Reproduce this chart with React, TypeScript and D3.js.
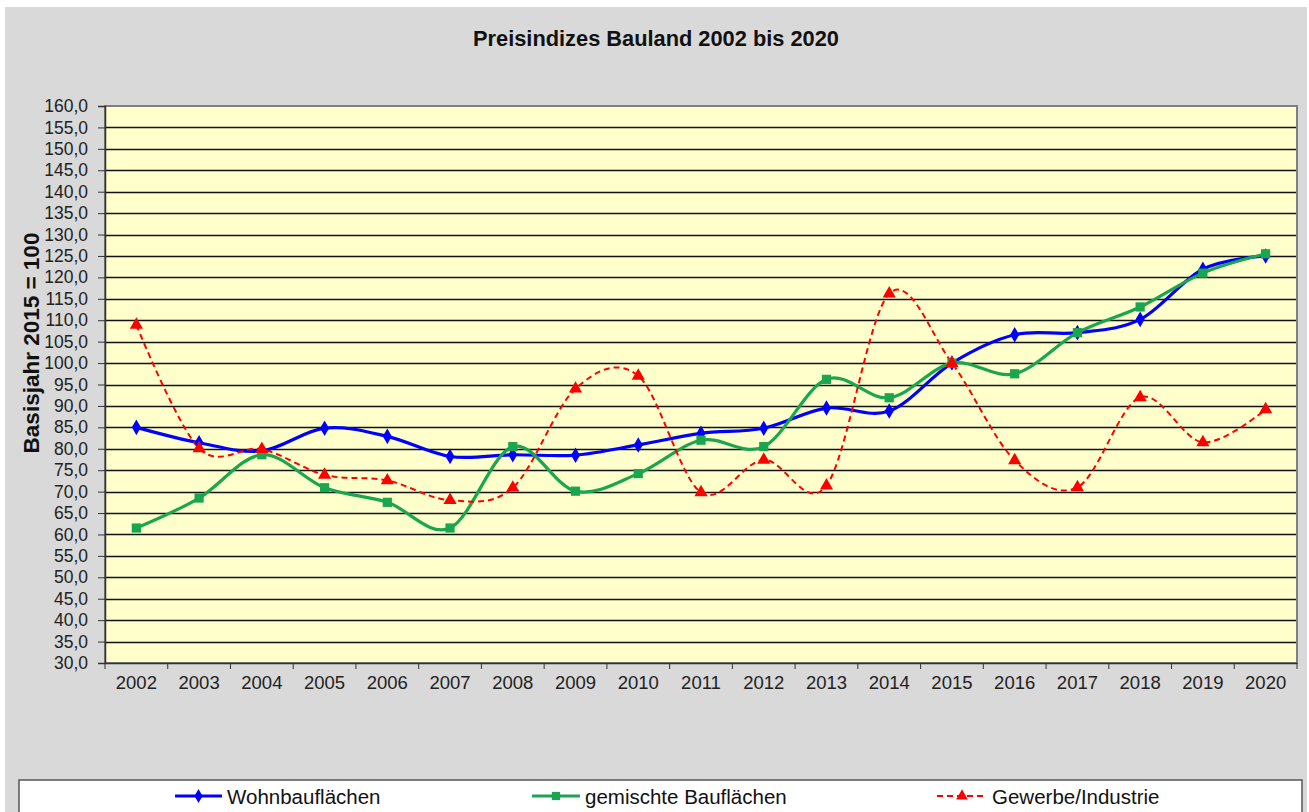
import React, { useEffect, useRef } from "react";
import * as d3 from "d3";

// categories (years)
const years = [
  "2002", "2003", "2004", "2005", "2006", "2007", "2008", "2009", "2010", "2011",
  "2012", "2013", "2014", "2015", "2016", "2017", "2018", "2019", "2020",
];

// series values
const wohnbau = [
  85.0, 81.4, 79.5, 84.8, 82.9, 78.2, 78.6, 78.5, 80.9, 83.6,
  84.8, 89.5, 88.8, 100.0, 106.6, 107.1, 110.2, 121.9, 125.0,
];
const gemischt = [
  61.5, 68.5, 78.6, 70.9, 67.5, 61.5, 80.5, 70.1, 74.2, 82.0,
  80.5, 96.2, 91.9, 100.0, 97.5, 107.1, 113.1, 121.0, 125.5,
];
const gewerbe = [
  108.9, 80.1, 79.9, 73.9, 72.6, 68.0, 70.9, 94.0, 97.0, 69.8,
  77.4, 71.4, 116.2, 100.0, 77.3, 71.0, 92.0, 81.5, 89.2,
];

const yTicks = d3.range(30, 160.1, 5);

const seriesNames = ["Wohnbauflächen", "gemischte Bauflächen", "Gewerbe/Industrie"];

const W = 1309;
const H = 812;

export default function App() {
  const ref = useRef<SVGSVGElement>(null);

  useEffect(() => {
    const svg = d3.select(ref.current);
    svg.selectAll("*").remove();

    const font = "'Liberation Sans', Arial, sans-serif";

    // outer chart background
    svg.append("rect").attr("width", W).attr("height", H).attr("fill", "#ffffff");
    svg
      .append("rect")
      .attr("x", 5)
      .attr("y", 7)
      .attr("width", W - 7)
      .attr("height", H - 7)
      .attr("fill", "#d9d9d9");

    // plot area
    const left = 105;
    const right = 1297;
    const top = 106;
    const bottom = 663;

    const x = d3.scaleBand().domain(years).range([left, right]);
    const y = d3.scaleLinear().domain([30, 160]).range([bottom, top]);
    const cx = (i: number) => (x(years[i]) as number) + x.bandwidth() / 2;

    svg
      .append("rect")
      .attr("x", left)
      .attr("y", top)
      .attr("width", right - left)
      .attr("height", bottom - top)
      .attr("fill", "#ffffcc");

    // gridlines
    svg
      .append("g")
      .selectAll("line")
      .data(yTicks.slice(1, -1))
      .enter()
      .append("line")
      .attr("x1", left)
      .attr("x2", right)
      .attr("y1", (d) => Math.round(y(d)) + 0.5)
      .attr("y2", (d) => Math.round(y(d)) + 0.5)
      .attr("stroke", "#111")
      .attr("stroke-width", 1.4);

    // plot border
    svg
      .append("rect")
      .attr("x", left)
      .attr("y", top)
      .attr("width", right - left)
      .attr("height", bottom - top)
      .attr("fill", "none")
      .attr("stroke", "#808080")
      .attr("stroke-width", 2);

    // y axis
    const yAxis = svg
      .append("g")
      .attr("transform", `translate(${left},0)`)
      .call(
        d3
          .axisLeft(y)
          .tickValues(yTicks)
          .tickSize(7)
          .tickPadding(10)
          .tickFormat((d) => d3.format(".1f")(d as number).replace(".", ","))
      );
    yAxis.select(".domain").attr("stroke", "#333").attr("stroke-width", 1.5);
    yAxis.selectAll(".tick line").attr("stroke", "#333");
    yAxis
      .selectAll(".tick text")
      .attr("fill", "#222")
      .style("font-family", font)
      .style("font-size", "17.5px");

    // x axis: ticks at category boundaries
    const xAxis = svg
      .append("g")
      .attr("transform", `translate(0,${bottom})`)
      .call(d3.axisBottom(x).tickSize(0).tickPadding(13));
    xAxis.select(".domain").attr("stroke", "#333").attr("stroke-width", 1.5);
    xAxis
      .selectAll(".tick text")
      .attr("fill", "#222")
      .style("font-family", font)
      .style("font-size", "18.5px");
    xAxis
      .selectAll(".boundary")
      .data(d3.range(years.length + 1))
      .enter()
      .append("line")
      .attr("class", "boundary")
      .attr("x1", (i) => left + i * x.step())
      .attr("x2", (i) => left + i * x.step())
      .attr("y1", 0)
      .attr("y2", 6)
      .attr("stroke", "#333");

    // title
    svg
      .append("text")
      .attr("x", 656)
      .attr("y", 46)
      .attr("text-anchor", "middle")
      .style("font-family", font)
      .style("font-weight", "bold")
      .style("font-size", "21.8px")
      .attr("fill", "#111")
      .text("Preisindizes Bauland 2002 bis 2020");

    // y axis title
    svg
      .append("text")
      .attr("transform", "translate(39,343) rotate(-90)")
      .attr("text-anchor", "middle")
      .style("font-family", font)
      .style("font-weight", "bold")
      .style("font-size", "22.5px")
      .attr("fill", "#111")
      .text("Basisjahr 2015 = 100");

    // series
    const series = [
      { name: seriesNames[0], values: wohnbau, color: "#0000ff", width: 3.2, dash: null, marker: d3.symbolDiamond, size: 70 },
      { name: seriesNames[1], values: gemischt, color: "#1aa64e", width: 3.2, dash: null, marker: d3.symbolSquare, size: 85 },
      { name: seriesNames[2], values: gewerbe, color: "#ff0000", width: 2, dash: "6,4", marker: d3.symbolTriangle, size: 75 },
    ];

    const line = d3
      .line<number>()
      .x((d, i) => cx(i))
      .y((d) => y(d))
      .curve(d3.curveCardinal.tension(0));

    series.forEach((s) => {
      svg
        .append("path")
        .attr("d", line(s.values))
        .attr("fill", "none")
        .attr("stroke", s.color)
        .attr("stroke-width", s.width)
        .attr("stroke-dasharray", s.dash);
    });

    series.forEach((s) => {
      svg
        .append("g")
        .selectAll("path")
        .data(s.values)
        .enter()
        .append("path")
        .attr("transform", (d, i) => `translate(${cx(i)},${y(d)})`)
        .attr("d", d3.symbol().type(s.marker).size(s.size)())
        .attr("fill", s.color);
    });

    // legend box
    svg
      .append("rect")
      .attr("x", 19)
      .attr("y", 780)
      .attr("width", 1283)
      .attr("height", 60)
      .attr("fill", "#ffffff")
      .attr("stroke", "#555")
      .attr("stroke-width", 1.5);

    const legendPos = [
      { x1: 175, x2: 222 },
      { x1: 532, x2: 580 },
      { x1: 937, x2: 987 },
    ];
    series.forEach((s, i) => {
      const p = legendPos[i];
      const row = svg.append("g");
      row
        .append("line")
        .attr("x1", p.x1)
        .attr("x2", p.x2)
        .attr("y1", 796)
        .attr("y2", 796)
        .attr("stroke", s.color)
        .attr("stroke-width", s.width)
        .attr("stroke-dasharray", s.dash);
      row
        .append("path")
        .attr("transform", `translate(${(p.x1 + p.x2) / 2},796)`)
        .attr("d", d3.symbol().type(s.marker).size(s.size * 0.8)())
        .attr("fill", s.color);
      row
        .append("text")
        .attr("x", p.x2 + 5)
        .attr("y", 803.5)
        .style("font-family", font)
        .style("font-size", "20.5px")
        .attr("fill", "#111")
        .text(s.name);
    });
  }, []);

  return (
    <svg
      ref={ref}
      width={W}
      height={H}
      style={{ position: "absolute", left: 0, top: 0 }}
    />
  );
}
